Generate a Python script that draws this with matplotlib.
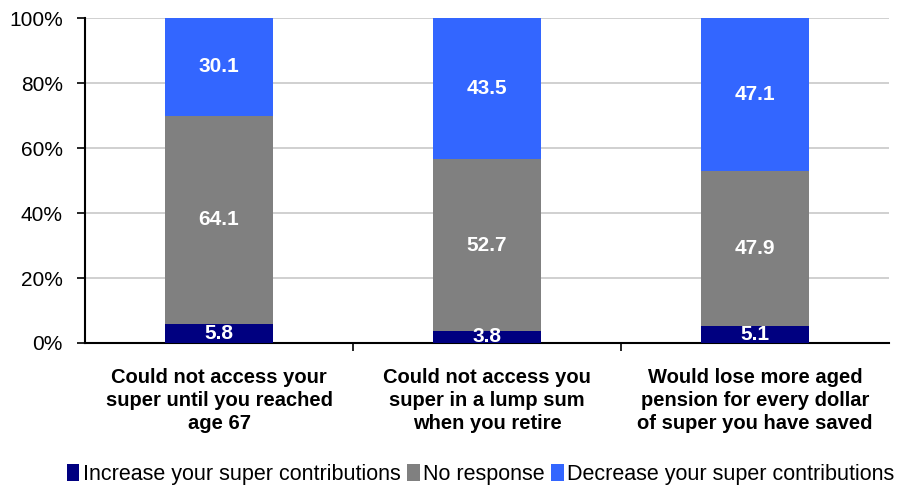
import matplotlib
matplotlib.use("Agg")
import matplotlib.pyplot as plt
import numpy as np

plt.rcParams.update({
    "font.family": ["Liberation Sans", "DejaVu Sans"],
})

categories = [
    "Could not access your\nsuper until you reached\nage 67",
    "Could not access you\nsuper in a lump sum\nwhen you retire",
    "Would lose more aged\npension for every dollar\nof super you have saved",
]
increase = [5.8, 3.8, 5.1]
no_response = [64.1, 52.7, 47.9]
decrease = [30.1, 43.5, 47.1]
series_names = ["Increase your super contributions", "No response",
                "Decrease your super contributions"]
colors = ["#000080", "#808080", "#3366FF"]

fig = plt.figure(figsize=(8.99, 4.86), dpi=100)
ax = fig.add_axes([85 / 899, 1 - 343 / 486, (889 - 85) / 899, (343 - 18) / 486])

x = np.arange(len(categories))
width = 0.40
bottom = np.zeros(len(categories))
for vals, name, col in zip([increase, no_response, decrease], series_names, colors):
    vals = np.array(vals)
    ax.bar(x, vals, width, bottom=bottom, color=col, label=name, zorder=3)
    for xi, b, v in zip(x, bottom, vals):
        ax.text(xi, b + v / 2, f"{v:.1f}", ha="center", va="center",
                color="white", fontsize=15, fontweight="bold", zorder=4)
    bottom += vals

ax.set_xlim(-0.5, 2.5)
ax.set_ylim(0, 100)
ax.set_yticks(np.arange(0, 101, 20))
ax.set_yticklabels([f"{v}%" for v in range(0, 101, 20)], fontsize=15)
ax.yaxis.grid(True, color="#c8c8c8", lw=1.2, zorder=0)

ax.set_xticks(x)
ax.set_xticklabels(categories, fontsize=14.5, fontweight="bold", linespacing=1.28)
ax.tick_params(axis="x", length=0, pad=18)
ax.set_xticks([0.5, 1.5], minor=True)
ax.tick_params(axis="x", which="minor", length=6, width=1.2)
ax.tick_params(axis="y", length=6, width=1.2, direction="out", pad=10)

for s in ["top", "right"]:
    ax.spines[s].set_visible(False)
ax.spines["left"].set_linewidth(1.5)
ax.spines["bottom"].set_linewidth(1.5)

fig.legend(loc="center left", bbox_to_anchor=(0.062, 0.024), ncol=3,
           frameon=False, fontsize=15.5, handlelength=0.6, handleheight=0.8,
           handletextpad=0.15, columnspacing=0.3, borderpad=0)

fig.savefig("out.png", dpi=100)
